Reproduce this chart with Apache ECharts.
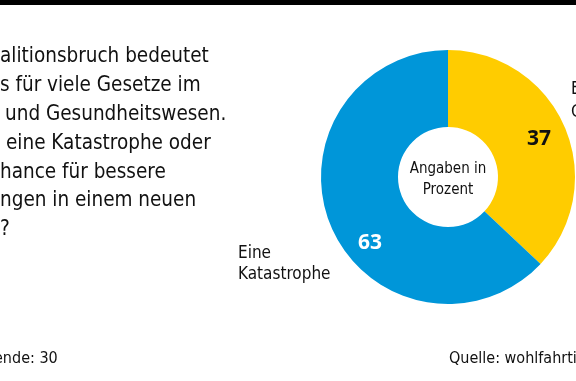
<!DOCTYPE html>
<html>
<head>
<meta charset="utf-8">
<script src="https://cdn.jsdelivr.net/npm/echarts@6/dist/echarts.min.js"></script>
<style>
html,body{margin:0;padding:0;background:#fff;}
#chart{width:576px;height:381px;}
</style>
</head>
<body>
<div id="chart"></div>
<script>
// Data
const categories = ['Eine Chance', 'Eine Katastrophe'];
const values = [37, 63];
const sliceColors = ['#FFCC00', '#0096D9'];
const questionLines = [
  'alitionsbruch bedeutet',
  's für viele Gesetze im',
  'und Gesundheitswesen.',
  'eine Katastrophe oder',
  'hance für bessere',
  'ngen in einem neuen',
  '?'
];
const centerNote = ['Angaben in', 'Prozent'];
const footerLeft = 'ende: 30';
const footerRight = 'Quelle: wohlfahrtintern';

const FONT = '"Liberation Sans Narrow", "DejaVu Sans Condensed", "Roboto", sans-serif';
const lineX = [0, 0, 5, 6, 0, 0, 0];

const chart = echarts.init(document.getElementById('chart'), null, {renderer: 'canvas'});

const graphics = [
  {type: 'rect', left: 0, top: 0, shape: {x: 0, y: 0, width: 576, height: 5}, style: {fill: '#000'}}
];
questionLines.forEach((t, i) => {
  graphics.push({
    type: 'text',
    x: lineX[i], y: 57 + i * 28.8,
    style: {text: t, fill: '#111', fontSize: 20.5, fontFamily: FONT, verticalAlign: 'middle', align: 'left'}
  });
});
graphics.push({
  type: 'text', x: 238, y: 264,
  style: {text: categories[1].replace(' ', '\n'), fill: '#111', fontSize: 17, fontFamily: FONT, lineHeight: 21, verticalAlign: 'middle', align: 'left'}
});
graphics.push({
  type: 'text', x: 571, y: 101,
  style: {text: categories[0].replace(' ', '\n'), fill: '#111', fontSize: 17, fontFamily: FONT, lineHeight: 23, verticalAlign: 'middle', align: 'left'}
});
graphics.push({
  type: 'text', x: 448, y: 180,
  style: {text: centerNote.join('\n'), fill: '#111', fontSize: 15, fontFamily: FONT, lineHeight: 21, verticalAlign: 'middle', align: 'center'}
});
graphics.push({
  type: 'text', x: -6, y: 359,
  style: {text: footerLeft, fill: '#111', fontSize: 16, fontFamily: FONT, verticalAlign: 'middle', align: 'left'}
});
graphics.push({
  type: 'text', x: 449, y: 359,
  style: {text: footerRight, fill: '#111', fontSize: 16, fontFamily: FONT, verticalAlign: 'middle', align: 'left'}
});

const labelOffsets = [[7, -2], [6, 30]];
const labelColors = ['#111', '#fff'];

chart.setOption({
  animation: false,
  graphic: graphics,
  series: [{
    type: 'pie',
    center: [448, 177],
    radius: [50, 127],
    startAngle: 90,
    clockwise: true,
    silent: true,
    avoidLabelOverlap: false,
    labelLine: {show: false},
    itemStyle: {borderWidth: 0},
    data: categories.map((c, i) => ({
      name: c,
      value: values[i],
      itemStyle: {color: sliceColors[i]},
      label: {
        show: true, position: 'inside', formatter: '{c}',
        color: labelColors[i], fontSize: 21, fontWeight: 'bold',
        fontFamily: '"Open Sans", "DejaVu Sans", sans-serif',
        offset: labelOffsets[i]
      }
    }))
  }]
});
</script>
</body>
</html>
